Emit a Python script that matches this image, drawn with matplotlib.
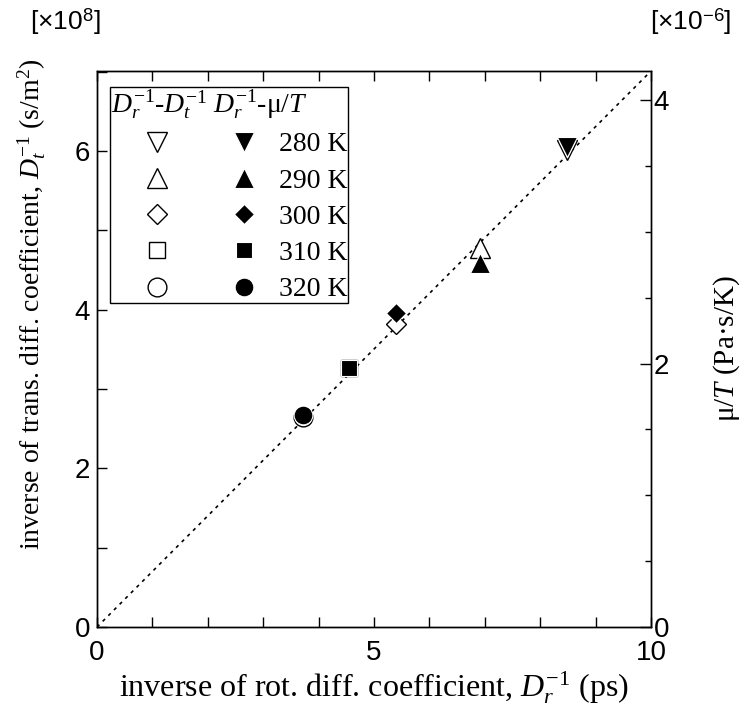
import matplotlib
matplotlib.use('Agg')
import matplotlib.pyplot as plt
from matplotlib.ticker import MultipleLocator
from matplotlib.legend_handler import HandlerTuple

plt.rcParams['font.family'] = ['Liberation Sans', 'DejaVu Sans']
plt.rcParams['mathtext.fontset'] = 'custom'
plt.rcParams['mathtext.rm'] = 'Liberation Serif'
plt.rcParams['mathtext.it'] = 'Liberation Serif:italic'
plt.rcParams['mathtext.sf'] = 'Liberation Sans'

# ---------------- data ----------------
temps = ['280 K', '290 K', '300 K', '310 K', '320 K']
inv_Dr = [8.48, 6.91, 5.40, 4.54, 3.71]          # ps
inv_Dt = [6.01, 4.78, 3.82, 3.26, 2.645]         # x1e8 s/m^2
mu_over_T = [3.646, 2.763, 2.384, 1.967, 1.606]  # x1e-6 Pa s/K
markers = ['v', '^', 'D', 's', 'o']
msizes = [15, 15, 10, 12, 13.5]
fit_x = [0, 10]
fit_y = [0, 7.01]

xlim = (0, 10)
ylim_left = (0, 7.01)
ylim_right = (0, 4.22)

serif = ['Liberation Serif', 'DejaVu Serif']

fig = plt.figure(figsize=(7.43, 7.13), dpi=100)
ax = fig.add_axes([0.1306, 0.1206, 0.7456, 0.7798])
ax2 = ax.twinx()

ax.plot(fit_x, fit_y, color='black', lw=1.2, linestyle=(0, (2, 2.8)), zorder=1)

open_h = []
filled_h = []
for xv, yv, zv, m, s in zip(inv_Dr, inv_Dt, mu_over_T, markers, msizes):
    l1, = ax.plot([xv], [yv], linestyle='none', marker=m, markersize=s,
                  markerfacecolor='white', markeredgecolor='black',
                  markeredgewidth=1.0, zorder=3)
    l2, = ax2.plot([xv], [zv], linestyle='none', marker=m, markersize=s,
                   markerfacecolor='black', markeredgecolor='white',
                   markeredgewidth=0.8, zorder=4)
    open_h.append(l1)
    filled_h.append(l2)

ax.set_xlim(*xlim)
ax.set_ylim(*ylim_left)
ax2.set_ylim(*ylim_right)

ax.xaxis.set_major_locator(MultipleLocator(5))
ax.xaxis.set_minor_locator(MultipleLocator(1))
ax.yaxis.set_major_locator(MultipleLocator(2))
ax.yaxis.set_minor_locator(MultipleLocator(1))
ax2.yaxis.set_major_locator(MultipleLocator(2))
ax2.yaxis.set_minor_locator(MultipleLocator(0.5))

ax.tick_params(which='both', direction='in', length=7, width=1,
               top=True, right=False, labelsize=20, pad=5)
ax.tick_params(axis='x', which='major', pad=9)
ax2.tick_params(which='major', direction='in', length=8, width=1,
                labelsize=20, pad=2)
ax2.tick_params(which='minor', direction='in', length=4, width=1)

for a in (ax, ax2):
    for sp in a.spines.values():
        sp.set_linewidth(1.0)

ax.set_xlabel(r'inverse of rot. diff. coefficient, $D_r^{-1}$ (ps)',
              fontsize=23, family=serif, labelpad=3)
ax.set_ylabel(r'inverse of trans. diff. coefficient, $D_t^{-1}$ (s/m$^2$)',
              fontsize=20, family=serif)
ax.yaxis.set_label_coords(-0.088, 0.58)
ax2.set_ylabel(r'μ/$T$ (Pa·s/K)', fontsize=21, family=serif)
ax2.yaxis.set_label_coords(1.108, 0.5)

fig.text(0.04, 0.97, r'[×10$^{\mathsf{8}}$]', fontsize=19, va='center', ha='left')
fig.text(0.875, 0.97, r'[×10$^{\mathsf{-6}}$]', fontsize=19, va='center', ha='left')

handles = [(o, f) for o, f in zip(open_h, filled_h)]
leg = ax2.legend(handles, temps,
                 handler_map={tuple: HandlerTuple(ndivide=None, pad=-0.18)},
                 loc='upper left', bbox_to_anchor=(0.0235, 0.971),
                 borderaxespad=0, borderpad=0.03, handlelength=6.44,
                 handletextpad=-0.4, labelspacing=0.39, handleheight=0.7,
                 prop={'family': serif, 'size': 20},
                 title=r'$D_r^{-1}$-$D_t^{-1}$ $D_r^{-1}$-μ/$T$',
                 title_fontproperties={'family': serif, 'size': 20},
                 alignment='left', fancybox=False, framealpha=1,
                 edgecolor='black')
leg.get_frame().set_linewidth(1.0)

fig.savefig('out.png', dpi=100)
